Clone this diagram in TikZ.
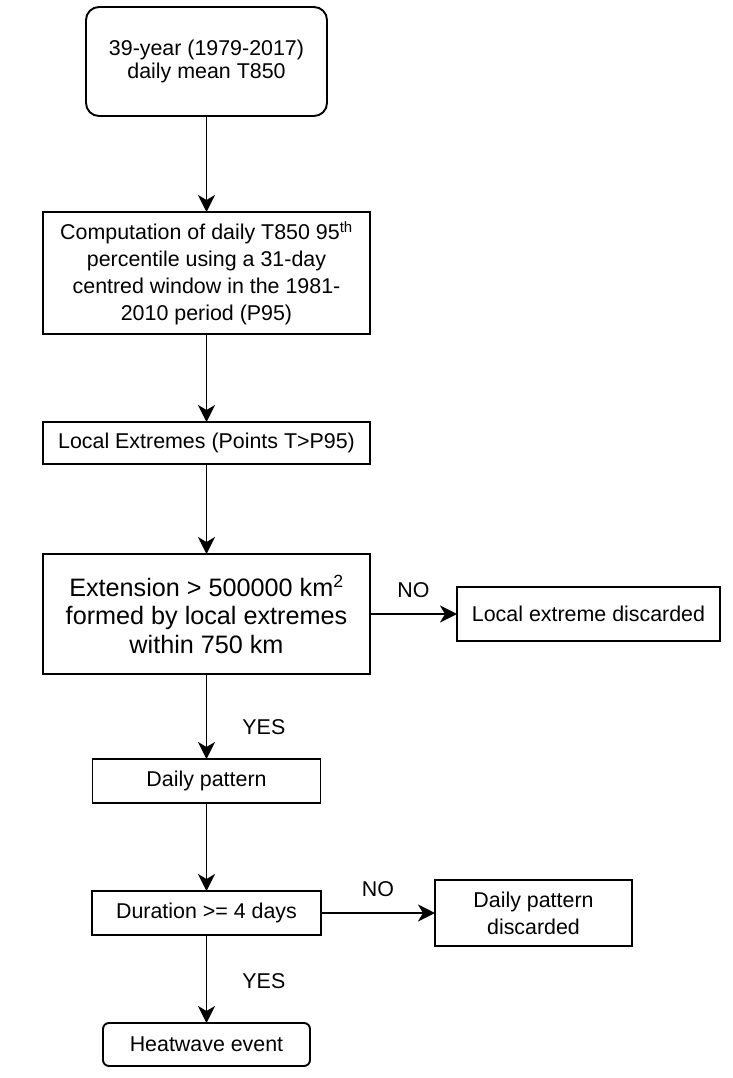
\documentclass[tikz,border=0pt]{standalone}
\usepackage{fontspec}
\setmainfont{Liberation Sans}
\usetikzlibrary{positioning}
\usetikzlibrary{arrows.meta}

\begin{document}
\begin{tikzpicture}[
    x=1pt, y=1pt,
    node distance=88pt,
    block/.style={
        rectangle,
        draw,
        line width=1.9pt,
        align=center,
        inner sep=0pt,
        outer sep=0pt,
        font=\fontsize{21.4}{26.7}\selectfont
    },
    terminal/.style={block, rounded corners=13pt},
    arrow/.style={-{Stealth[length=17pt,width=17pt,inset=5pt]}, line width=1.9pt},
    answer/.style={inner sep=0pt, font=\fontsize{21.4}{26}\selectfont}
]
    \useasboundingbox (0,0) rectangle (732,-1078);

    \node[terminal, minimum width=241pt, minimum height=109pt, font=\fontsize{21.4}{23.5}\selectfont] (series) at (206.5,-61.5) {39-year (1979-2017)\\daily mean T850};
    \node[block, minimum width=327pt, minimum height=122pt, below=96pt of series] (pct) {Computation of daily T850 95\textsuperscript{th}\\percentile using a 31-day\\centred window in the 1981-\\2010 period (P95)};
    \node[block, minimum width=327pt, minimum height=42pt, below=88pt of pct] (local) {Local Extremes (Points T>P95)};
    \node[block, minimum width=327pt, minimum height=120pt, below=90pt of local, font=\fontsize{25.2}{28.5}\selectfont] (extent) {Extension > 500000 km\textsuperscript{2}\\formed by local extremes\\within 750 km};
    \node[block, minimum width=263pt, minimum height=54pt, right=87pt of extent] (drop1) {Local extreme discarded};
    \node[block, minimum width=228pt, minimum height=44pt, below=85pt of extent] (daily) {Daily pattern};
    \node[block, minimum width=229pt, minimum height=44pt, below=88pt of daily] (dur) {Duration >= 4 days};
    \node[block, minimum width=197pt, minimum height=66pt, right=114pt of dur] (drop2) {Daily pattern\\discarded};
    \node[terminal, rounded corners=6pt, minimum width=207pt, minimum height=43pt, below=88pt of dur] (heat) {Heatwave event};

    \draw[arrow] (series) -- (pct);
    \draw[arrow] (pct) -- (local);
    \draw[arrow] (local) -- (extent);
    \draw[arrow] (extent) -- node[answer, above=15pt] (no1) {NO} (drop1);
    \draw[arrow] (extent) -- node[answer, pos=0.62, right=35pt] (yes1) {YES} (daily);
    \draw[arrow] (daily) -- (dur);
    \draw[arrow] (dur) -- node[answer, above=15pt] (no2) {NO} (drop2);
    \draw[arrow] (dur) -- node[answer, pos=0.52, right=35pt] (yes2) {YES} (heat);
\end{tikzpicture}
\end{document}
